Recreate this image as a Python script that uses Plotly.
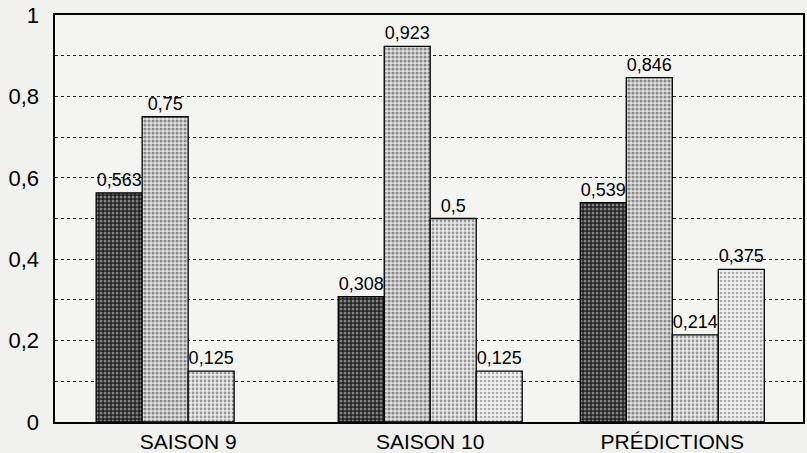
import plotly.graph_objects as go

categories = ["SAISON 9", "SAISON 10", "PRÉDICTIONS"]
serie1 = [0.563, 0.308, 0.539]
serie2 = [0.75, 0.923, 0.846]
serie3 = [0.125, 0.5, 0.214]
serie4 = [None, 0.125, 0.375]
y_ticks = [0, 0.2, 0.4, 0.6, 0.8, 1]
y_tick_labels = ["0", "0,2", "0,4", "0,6", "0,8", "1"]

styles = [
    dict(bg="#222222", fg="#e0e0e0", size=4, sol=0.45),
    dict(bg="#e2e2e2", fg="#2e2e2e", size=4, sol=0.5),
    dict(bg="#ebebeb", fg="#444444", size=4, sol=0.4),
    dict(bg="#f0f0f0", fg="#666666", size=4, sol=0.35),
]

fig = go.Figure()
for vals, st in zip([serie1, serie2, serie3, serie4], styles):
    texts = [("" if v is None else f"{v:g}".replace(".", ",")) for v in vals]
    fig.add_trace(go.Bar(
        x=categories, y=vals, text=texts, textposition="outside",
        textfont=dict(family="Liberation Sans, Arial", size=18, color="black"),
        cliponaxis=False,
        marker=dict(color=st["bg"], line=dict(color="black", width=1.3),
                    pattern=dict(shape=".", fgcolor=st["fg"], bgcolor=st["bg"],
                                 size=st["size"], solidity=st["sol"], fillmode="overlay")),
        showlegend=False, hoverinfo="skip",
    ))

fig.update_layout(
    width=807, height=453,
    margin=dict(l=55, r=4, t=15, b=31, autoexpand=False),
    paper_bgcolor="#f1f1f0", plot_bgcolor="#f4f4f3",
    barmode="group", bargap=0.24, bargroupgap=0,
    font=dict(family="Liberation Sans, Arial", color="black"),
    uniformtext=dict(mode=False),
)
fig.update_xaxes(
    range=[-0.55, 2.54], showline=True, linecolor="black", linewidth=1.6, mirror=True,
    ticks="", automargin=False,
    tickfont=dict(size=21, family="Liberation Sans, Arial"),
)
fig.update_yaxes(
    range=[0, 1], tickvals=y_ticks, ticktext=y_tick_labels,
    showline=True, linecolor="black", linewidth=1.6, mirror=True,
    ticks="outside", ticklen=10, tickcolor="rgba(0,0,0,0)", automargin=False,
    tickfont=dict(size=22, family="Liberation Sans, Arial"),
    showgrid=True, gridcolor="#222222", gridwidth=1, griddash="dot",
    minor=dict(dtick=0.1, showgrid=True, gridcolor="#222222", gridwidth=1, griddash="dot"),
    zeroline=False,
)

fig.write_html(
    "out.html",
    config={"displayModeBar": False, "staticPlot": True},
    post_script="document.body.style.margin='0';document.body.style.overflow='hidden';",
)
